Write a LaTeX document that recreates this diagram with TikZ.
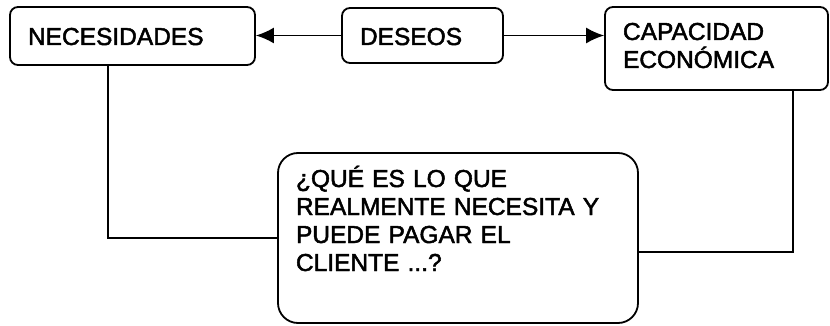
\documentclass[tikz,border=0pt]{standalone}
\usepackage{fontspec}
\setmainfont{Liberation Sans}[FakeBold=2]
\usetikzlibrary{arrows.meta}

\begin{document}
\begin{tikzpicture}[x=1pt,y=-1pt,
		caja/.style={draw,line width=1.8pt,rounded corners=8pt,inner xsep=18pt,inner ysep=0pt,align=left,
			font=\fontsize{24.5}{28}\selectfont},
		flecha/.style={line width=1.6pt,-{Latex[length=18pt,width=16pt]}},
		linea/.style={line width=1.6pt}]
			\useasboundingbox (0,0) rectangle (830,326);
			\node[caja,text width=209pt,text height=38pt,text depth=20pt] (necesidades) at (132.5,36) {NECESIDADES};
			\node[caja,text width=125pt,text height=37pt,text depth=18pt] (deseos) at (422.5,35.5) {DESEOS};
			\node[caja,text width=187pt,text height=33pt,text depth=50pt] (capacidad) at (716.5,48.5) {CAPACIDAD\\ECONÓMICA};
			\node[caja,rounded corners=20pt,text width=324pt,text height=34pt,text depth=136pt] (pregunta) at (458,238)
				{¿QUÉ ES LO QUE\\REALMENTE NECESITA Y\\PUEDE PAGAR EL\\CLIENTE ...?};
			\coordinate (d2) at (deseos.east);
			\draw[flecha] (deseos.west) -- (deseos.west -| necesidades.east);
			\draw[flecha] (d2) -- (d2 -| capacidad.west);
			\coordinate (p1) at ([yshift=-14pt]pregunta.east);
			\draw[linea] ([xshift=-24.5pt]necesidades.south) |- (pregunta.west);
			\draw[linea] ([xshift=76.5pt]capacidad.south) |- (p1);
		\end{tikzpicture}
\end{document}
